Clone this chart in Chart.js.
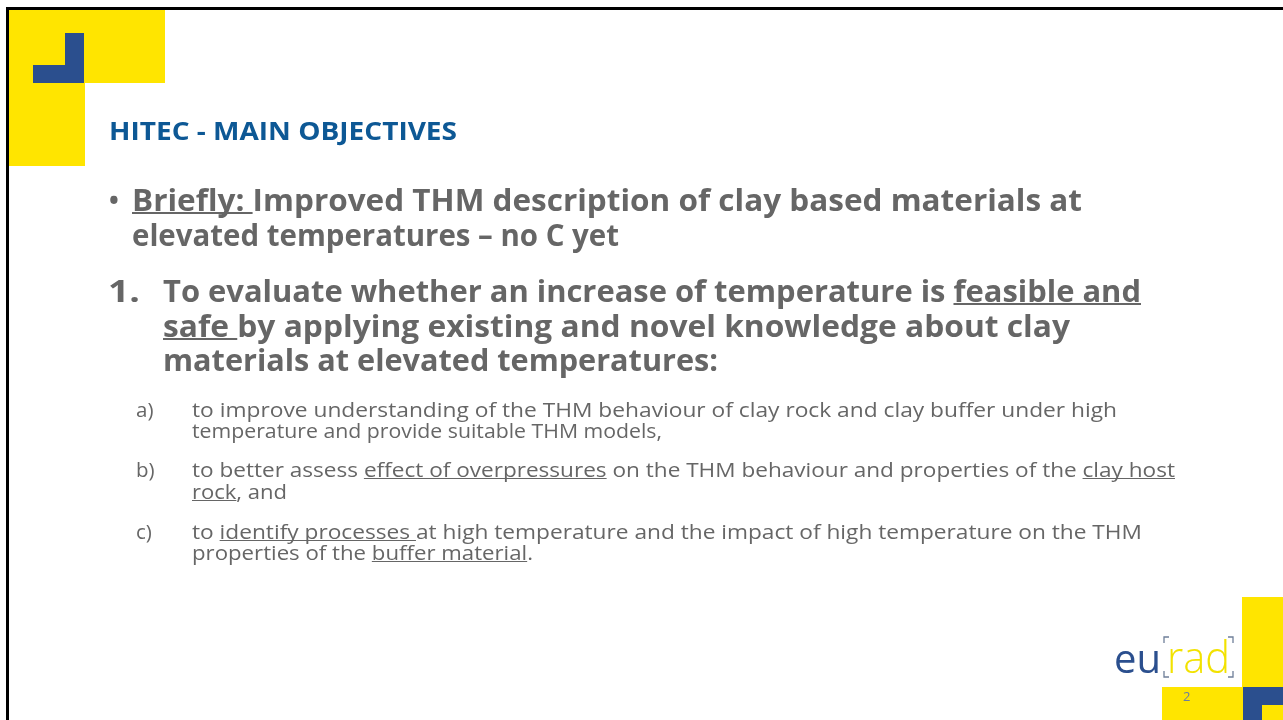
<!DOCTYPE html>
<html><head><meta charset="utf-8">
<script src="https://cdn.jsdelivr.net/npm/chart.js@4.4.1/dist/chart.umd.min.js"></script>
<style>
html,body{margin:0;padding:0;background:#fff;}
#wrap{position:relative;width:1283px;height:720px;overflow:hidden;background:#fff;}
#c{position:absolute;left:0;top:0;}
#txt{position:absolute;left:0;top:0;width:1283px;height:720px;}
.ln{position:absolute;left:0;top:0;white-space:pre;font-family:"Open Sans","Noto Sans",sans-serif;line-height:1;transform-origin:0 0;}
.u{text-decoration:underline;text-decoration-skip-ink:none;}
</style></head>
<body><div id="wrap"><canvas id="c" width="1283" height="720"></canvas><div id="txt"></div></div>
<script>
// ---- slide content ----
const titleText = ["HITEC - MAIN OBJECTIVES"];
const briefLines = [
  [["Briefly: ", true], ["Improved THM description of clay based materials at", false]],
  [["elevated temperatures \u2013 no C yet", false]]
];
const objectiveNumber = ["1."];
const objectiveLines = [
  [["To evaluate whether an increase of temperature is ", false], ["feasible and", true]],
  [["safe ", true], ["by applying existing and novel knowledge about clay", false]],
  [["materials at elevated temperatures:", false]]
];
const subLabels = ["a)", "b)", "c)"];
const subLines = [
  [
    [["to improve understanding of the THM behaviour of clay rock and clay buffer under high", false]],
    [["temperature and provide suitable THM models,", false]]
  ],
  [
    [["to better assess ", false], ["effect of overpressures", true], [" on the THM behaviour and properties of the ", false], ["clay host", true]],
    [["rock", true], [", and", false]]
  ],
  [
    [["to ", false], ["identify processes ", true], ["at high temperature and the impact of high temperature on the THM", false]],
    [["properties of the ", false], ["buffer material", true], [".", false]]
  ]
];
const logoParts = ["eu", "rad"];
const pageNumber = ["2"];

// ---- layout / style (positions kept apart from content) ----
const GRAY = "#666666", TITLE = "#0d5895", YEL = "#ffe500", BLUE = "#2b4f8e";
const layout = {
  title: {x:109, base:140, right:457, size:25, weight:700, color:TITLE},
  bullet: {x:109, base:210},
  brief: [{x:132, base:211, right:1082}, {x:132, base:246, right:619}],
  bigSize: 30,
  num: {x:108, base:302, right:140},
  obj: [{x:163, base:302, right:1141}, {x:163, base:337, right:1070}, {x:163, base:371, right:718}],
  subSize: 20.5,
  subLabelX: 136,
  sub: [
    [{x:192, base:417, right:1117}, {x:192, base:438, right:662}],
    [{x:192, base:477, right:1175}, {x:192, base:499, right:287}],
    [{x:192, base:539, right:1142}, {x:192, base:560, right:533}]
  ],
  logo: [{endX:1161, base:673, size:40, weight:400, color:BLUE}, {x:1167, base:673, right:1230, size:44, weight:300, color:"#f2e200"}],
  page: {x:1183, base:701, size:13, weight:400, color:"#6d7ea0"}
};

const txt = document.getElementById('txt');
function addLine(segs, opt) {
  const d = document.createElement('div');
  d.className = 'ln';
  d.style.fontSize = opt.size + 'px';
  d.style.fontWeight = opt.weight;
  d.style.color = opt.color;
  segs.forEach(([s, u]) => {
    const sp = document.createElement('span');
    sp.textContent = s;
    if (u) { sp.className = 'u'; sp.style.textDecorationThickness = (opt.weight >= 700 ? 2 : 1) + 'px'; }
    d.appendChild(sp);
  });
  const mark = document.createElement('span');
  mark.style.cssText = 'display:inline-block;width:0;height:0;vertical-align:baseline;';
  d.appendChild(mark);
  txt.appendChild(d);
  const baseOff = mark.offsetTop;
  const w = d.getBoundingClientRect().width;
  const left = opt.endX !== undefined ? opt.endX - w : opt.x;
  d.style.left = left + 'px';
  d.style.top = (opt.base - baseOff) + 'px';
  if (opt.right) {
    d.style.transform = 'scaleX(' + ((opt.right - opt.x) / w).toFixed(4) + ')';
  }
  return d;
}

addLine([[titleText[0], false]], layout.title);
addLine([["\u2022", false]], {x:layout.bullet.x, base:layout.bullet.base, size:26, weight:700, color:GRAY});
briefLines.forEach((segs, i) => addLine(segs, Object.assign({size:layout.bigSize, weight:700, color:GRAY}, layout.brief[i])));
addLine([[objectiveNumber[0], false]], Object.assign({size:layout.bigSize, weight:700, color:GRAY}, layout.num));
objectiveLines.forEach((segs, i) => addLine(segs, Object.assign({size:layout.bigSize, weight:700, color:GRAY}, layout.obj[i])));
subLines.forEach((item, k) => {
  addLine([[subLabels[k], false]], {x:layout.subLabelX, base:layout.sub[k][0].base, size:layout.subSize, weight:400, color:GRAY});
  item.forEach((segs, i) => addLine(segs, Object.assign({size:layout.subSize, weight:400, color:GRAY}, layout.sub[k][i])));
});
logoParts.forEach((p, i) => addLine([[p, false]], layout.logo[i]));
addLine([[pageNumber[0], false]], layout.page);

// ---- decorations drawn through Chart.js scales ----
const decor = {
  border: [[6, 7, 1283, 10], [6, 7, 9, 720]],
  yellow: [[9, 10, 165, 83], [9, 83, 85, 166], [1242, 597, 1283, 687], [1162, 687, 1243, 720], [1262, 705, 1283, 720]],
  blue: [[65, 33, 84, 83], [33, 65, 84, 83], [1243, 687, 1283, 705], [1243, 687, 1262, 720]],
  brackets: [[1164, 637, 1, 1], [1164, 677, 1, -1], [1233, 637, -1, 1], [1233, 677, -1, -1]]
};
const slidePlugin = {
  id: 'slide',
  beforeDraw(chart) {
    const {ctx, scales: {x, y}} = chart;
    const X = v => x.getPixelForValue(v), Y = v => y.getPixelForValue(v);
    ctx.save();
    ctx.fillStyle = '#ffffff';
    ctx.fillRect(0, 0, chart.width, chart.height);
    const rect = (r, col) => { ctx.fillStyle = col; ctx.fillRect(X(r[0]), Y(r[1]), X(r[2]) - X(r[0]), Y(r[3]) - Y(r[1])); };
    decor.yellow.forEach(r => rect(r, YEL));
    decor.blue.forEach(r => rect(r, BLUE));
    decor.border.forEach(r => rect(r, '#000000'));
    ctx.strokeStyle = '#6f7f99';
    ctx.lineWidth = 1.3;
    decor.brackets.forEach(([bx, by, dx, dy]) => {
      ctx.beginPath();
      ctx.moveTo(X(bx + 5 * dx), Y(by));
      ctx.lineTo(X(bx), Y(by));
      ctx.lineTo(X(bx), Y(by + 6 * dy));
      ctx.stroke();
    });
    ctx.restore();
  }
};
new Chart(document.getElementById('c'), {
  type: 'scatter',
  data: {datasets: []},
  options: {
    responsive: false, animation: false, events: [],
    layout: {padding: 0},
    plugins: {legend: {display: false}, tooltip: {enabled: false}},
    scales: {
      x: {type: 'linear', min: 0, max: 1283, display: false},
      y: {type: 'linear', min: 0, max: 720, reverse: true, display: false}
    }
  },
  plugins: [slidePlugin]
});
</script>
</body></html>
